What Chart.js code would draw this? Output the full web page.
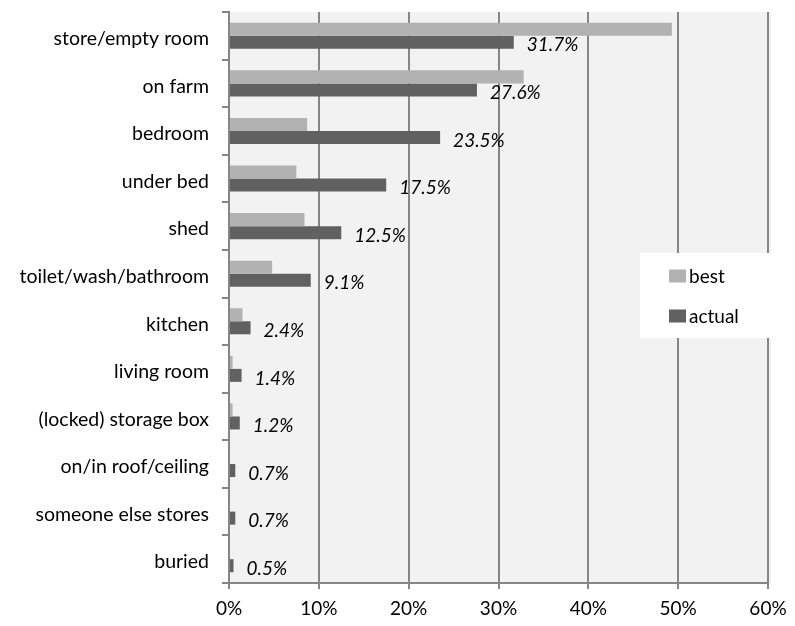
<!DOCTYPE html>
<html>
<head>
<meta charset="utf-8">
<script src="https://cdn.jsdelivr.net/npm/chart.js@4/dist/chart.umd.min.js"></script>
<style>
html,body{margin:0;padding:0;background:#fff;}
#wrap{width:795px;height:626px;position:relative;}
</style>
</head>
<body>
<div id="wrap"><canvas id="c" width="795" height="626"></canvas></div>
<script>
const categories = ["store/empty room","on farm","bedroom","under bed","shed","toilet/wash/bathroom","kitchen","living room","(locked) storage box","on/in roof/ceiling","someone else stores","buried"];
const bestValues = [49.3, 32.8, 8.7, 7.5, 8.4, 4.8, 1.5, 0.4, 0.4, 0, 0, 0];
const actualValues = [31.7, 27.6, 23.5, 17.5, 12.5, 9.1, 2.4, 1.4, 1.2, 0.7, 0.7, 0.5];
const seriesNames = ["best", "actual"];
const xTicks = [0, 10, 20, 30, 40, 50, 60];

const FONT = "Lato";
const GRID = "#868686";

const bgPlugin = {
  id: 'plotBg',
  beforeDraw(chart) {
    const a = chart.chartArea, ctx = chart.ctx;
    ctx.save();
    ctx.fillStyle = '#f2f2f2';
    ctx.fillRect(a.left, a.top, a.right - a.left + 3, a.bottom - a.top);
    ctx.restore();
  }
};

const labelPlugin = {
  id: 'valLabels',
  afterDatasetsDraw(chart) {
    const ctx = chart.ctx;
    const meta = chart.getDatasetMeta(1);
    ctx.save();
    ctx.font = 'italic 19px ' + FONT;
    ctx.fillStyle = '#000';
    ctx.textAlign = 'left';
    ctx.textBaseline = 'middle';
    meta.data.forEach((bar, i) => {
      const v = chart.data.datasets[1].data[i];
      ctx.fillText(v.toFixed(1) + '%', bar.x + 13, bar.y + 3);
    });
    ctx.restore();
  }
};

const legendPlugin = {
  id: 'boxLegend',
  afterDraw(chart) {
    const ctx = chart.ctx;
    ctx.save();
    ctx.fillStyle = '#ffffff';
    ctx.fillRect(640, 253, 131, 85);
    ctx.font = '19px ' + FONT;
    ctx.textBaseline = 'middle';
    ctx.textAlign = 'left';
    chart.data.datasets.forEach((ds, i) => {
      const y = 276 + i * 40;
      ctx.fillStyle = ds.backgroundColor;
      ctx.fillRect(669, y - 6.5, 17, 13);
      ctx.fillStyle = '#000';
      ctx.fillText(ds.label, 689, y + 1);
    });
    ctx.restore();
  }
};

new Chart(document.getElementById('c'), {
  type: 'bar',
  data: {
    labels: categories,
    datasets: [
      { label: seriesNames[0], data: bestValues, backgroundColor: '#b2b2b2', categoryPercentage: 0.547, barPercentage: 1.0 },
      { label: seriesNames[1], data: actualValues, backgroundColor: '#616161', categoryPercentage: 0.547, barPercentage: 1.0 }
    ]
  },
  options: {
    indexAxis: 'y',
    responsive: false,
    animation: false,
    devicePixelRatio: 1,
    layout: { padding: { top: 12, right: 27, bottom: 0, left: 0 } },
    plugins: { legend: { display: false }, tooltip: { enabled: false } },
    scales: {
      x: {
        min: 0, max: 60,
        afterBuildTicks(scale) { scale.ticks = xTicks.map(v => ({ value: v })); },
        afterFit(scale) { scale.height = 43; scale.paddingLeft = 0; scale.paddingRight = 0; },
        ticks: { callback: v => v + '%', color: '#000', font: { family: FONT, size: 19 }, padding: 8, maxRotation: 0 },
        grid: { color: GRID, lineWidth: 2, drawTicks: true, tickLength: 6, tickColor: GRID },
        border: { color: GRID, width: 2 }
      },
      y: {
        afterFit(scale) { scale.width = 229; scale.paddingTop = 0; scale.paddingBottom = 0; },
        ticks: { color: '#000', font: { family: FONT, size: 19.5 }, padding: 13, labelOffset: 3 },
        grid: { drawOnChartArea: false, drawTicks: true, tickLength: 7, color: GRID, tickColor: GRID, lineWidth: 2, offset: true },
        border: { color: GRID, width: 2 }
      }
    }
  },
  plugins: [bgPlugin, labelPlugin, legendPlugin]
});
</script>
</body>
</html>
